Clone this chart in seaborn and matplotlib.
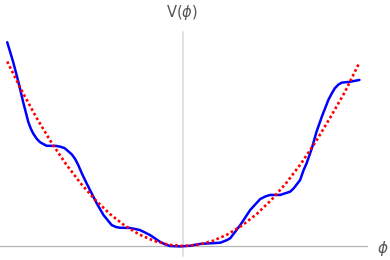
import pandas as pd
import matplotlib
matplotlib.use("Agg")
import matplotlib.pyplot as plt
import seaborn as sns

# ==============================
# Data
# ==============================
phi_blue = [-3.00, -2.90, -2.81, -2.73, -2.64, -2.60, -2.56, -2.50, -2.44, -2.33,
            -2.16, -2.09, -2.02, -1.90, -1.84, -1.79, -1.73, -1.66, -1.59, -1.475,
            -1.36, -1.22, -1.15, -1.08, -0.91, -0.74, -0.57, -0.40, -0.31, -0.23,
            -0.06, 0.11, 0.28, 0.45, 0.63, 0.745, 0.80, 0.97, 1.14, 1.31,
            1.40, 1.48, 1.65, 1.82, 1.88, 1.99, 2.05, 2.10, 2.19, 2.27,
            2.36, 2.47, 2.53, 2.58, 2.64, 2.70, 2.84, 3.00]
v_blue = [9.94, 8.99, 8.01, 7.04, 6.04, 5.74, 5.50, 5.24, 5.06, 4.89,
          4.88, 4.84, 4.77, 4.47, 4.23, 3.95, 3.55, 3.13, 2.73, 2.08,
          1.51, 1.02, 0.93, 0.89, 0.88, 0.78, 0.54, 0.21, 0.08, 0.00,
          -0.02, 0.01, 0.10, 0.13, 0.16, 0.29, 0.38, 1.02, 1.76, 2.29,
          2.42, 2.49, 2.49, 2.65, 2.81, 3.22, 3.71, 4.03, 4.77, 5.58,
          6.31, 7.12, 7.45, 7.69, 7.87, 7.97, 8.01, 8.10]

phi_red = [-3.00, -2.75, -2.50, -2.25, -2.00, -1.75, -1.50, -1.25, -1.00, -0.75,
           -0.50, -0.25, 0.00, 0.25, 0.50, 0.75, 1.00, 1.25, 1.50, 1.75,
           2.00, 2.25, 2.50, 2.75, 3.00]
v_red = [9.00, 7.56, 6.25, 5.06, 4.00, 3.06, 2.25, 1.56, 1.00, 0.56,
         0.25, 0.06, 0.00, 0.06, 0.25, 0.56, 1.00, 1.56, 2.25, 3.06,
         4.00, 5.06, 6.25, 7.50, 8.95]

df_blue = pd.DataFrame({"phi": phi_blue, "V": v_blue})
df_red = pd.DataFrame({"phi": phi_red, "V": v_red})

# ==============================
# Figure
# ==============================
sns.set_style("white")
fig = plt.figure(figsize=(3.9, 2.6), dpi=100)
ax = fig.add_axes([0, 0, 1, 1])

# axes through the origin
ax.plot([-3.13, 3.13], [0, 0], color="#b4b4b4", lw=0.9, zorder=1)
ax.plot([0, 0], [-0.5, 10.44], color="#dedede", lw=1.3, zorder=1)

sns.lineplot(data=df_red, x="phi", y="V", ax=ax, color="red", lw=1.9,
             linestyle=(0, (1, 1)), sort=False, estimator=None, zorder=3)
sns.lineplot(data=df_blue, x="phi", y="V", ax=ax, color="blue", lw=1.8,
             sort=False, estimator=None, zorder=2)

ax.set_xlim(-3.123, 3.521)
ax.set_ylim(-0.683, 12.0)
ax.set_axis_off()

fig.text(182 / 390, 1 - 13 / 260, r"V($\phi$)", ha="center", va="center",
         fontsize=10.5, color="#555555")
fig.text(383 / 390, 1 - 248 / 260, r"$\phi$", ha="center", va="center",
         fontsize=11, color="#555555")

fig.savefig("out.png", dpi=100)
